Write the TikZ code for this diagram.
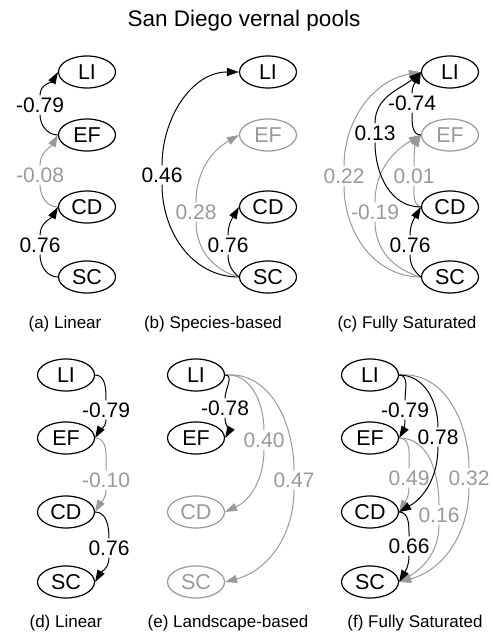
\documentclass[tikz,border=0pt]{standalone}
\usepackage{fontspec}
\setmainfont{Liberation Sans}
\usetikzlibrary{arrows.meta,shapes.geometric}
\definecolor{pathgrey}{gray}{0.6}

\begin{document}
\begin{tikzpicture}[x=1pt, y=1pt]

\useasboundingbox (0,0) rectangle (492,-639);

\node[anchor=base, font=\fontsize{22.5}{26}\selectfont] (title) at (244,-27) {San Diego vernal pools};

\begin{scope}[every node/.style={anchor=base, font=\fontsize{17}{20}\selectfont}]
	\node (capa) at (65,-328) {(a) Linear};
	\node (capb) at (213,-328) {(b) Species-based};
	\node (capc) at (407,-328) {(c) Fully Saturated};
	\node (capd) at (66,-627) {(d) Linear};
	\node (cape) at (228,-627) {(e) Landscape-based};
	\node (capf) at (415,-627) {(f) Fully Saturated};
\end{scope}

\begin{scope}[every node/.style={draw, ellipse, line width=1.2pt, minimum width=57pt, minimum height=32pt, inner sep=0pt, font=\fontsize{21.5}{24}\selectfont},
	greyvar/.style={draw=pathgrey, text=pathgrey}]
	\node (ali) at (87,-72) {LI};
	\node (aef) at (87,-135) {EF};
	\node (acd) at (87,-207) {CD};
	\node (asc) at (87,-277) {SC};
	\node (bli) at (268,-72) {LI};
	\node[greyvar] (bef) at (268,-135) {EF};
	\node (bcd) at (268,-207) {CD};
	\node (bsc) at (268,-277) {SC};
	\node (cli) at (450,-72) {LI};
	\node[greyvar] (cef) at (450,-135) {EF};
	\node (ccd) at (450,-207) {CD};
	\node (csc) at (450,-277) {SC};
	\node (dli) at (66,-375) {LI};
	\node (def) at (66,-438) {EF};
	\node (dcd) at (66,-512) {CD};
	\node (dsc) at (66,-582) {SC};
	\node (eli) at (196,-375) {LI};
	\node (eef) at (196,-438) {EF};
	\node[greyvar] (ecd) at (196,-512) {CD};
	\node[greyvar] (esc) at (196,-582) {SC};
	\node (fli) at (370,-375) {LI};
	\node (fef) at (370,-438) {EF};
	\node (fcd) at (370,-512) {CD};
	\node (fsc) at (370,-582) {SC};
\end{scope}

\begin{scope}[every node/.style={inner sep=2pt, font=\fontsize{21}{23}\selectfont},
	greytext/.style={text=pathgrey}]
	\node (aefli) at (40,-105) {-0.79};
	\node[greytext] (acdef) at (40,-175) {-0.08};
	\node (asccd) at (40,-245) {0.76};
	\node (bscli) at (162,-175) {0.46};
	\node[greytext] (bscef) at (196,-212) {0.28};
	\node (bsccd) at (228,-245) {0.76};
	\node (cefli) at (412,-103) {-0.74};
	\node (ccdli) at (375,-133) {0.13};
	\node[greytext] (cscli) at (344,-176) {0.22};
	\node[greytext] (ccdef) at (414,-176) {0.01};
	\node[greytext] (cscef) at (375,-212) {-0.19};
	\node (csccd) at (410,-245) {0.76};
	\node (dlief) at (106,-410) {-0.79};
	\node[greytext] (defcd) at (106,-480) {-0.10};
	\node (dcdsc) at (109,-548) {0.76};
	\node (elief) at (225,-408) {-0.78};
	\node[greytext] (elicd) at (264,-440) {0.40};
	\node[greytext] (elisc) at (294,-480) {0.47};
	\node (flief) at (405,-410) {-0.79};
	\node (flicd) at (438,-437) {0.78};
	\node[greytext] (flisc) at (469,-478) {0.32};
	\node[greytext] (fefcd) at (409,-478) {0.49};
	\node[greytext] (fefsc) at (439,-515) {0.16};
	\node (fcdsc) at (409,-546) {0.66};
\end{scope}

\begin{scope}[>={Triangle[length=12pt,width=8pt]}, every edge/.style={draw=black, line width=1pt},
	greyedge/.style={draw=pathgrey}]
	\path (aef.west) edge[out=180, in=-90] (aefli.south);
	\path [->] (aefli.north) edge[out=90, in=-120] (ali.west);
	\path (acd.west) edge[greyedge, out=180, in=-90] (acdef.south);
	\path [->] (acdef.north) edge[greyedge, out=90, in=-120] (aef.west);
	\path (asc.west) edge[out=180, in=-90] (asccd.south);
	\path [->] (asccd.north) edge[out=90, in=-120] (acd.west);

	\path (bsc.west) edge[out=180, in=-90] (bscli.south);
	\path [->] (bscli.north) edge[out=90, in=180] (bli.west);
	\path (bsc.west) edge[greyedge, out=165, in=-90] (bscef.south);
	\path [->] (bscef.north) edge[greyedge, out=90, in=-150] (bef.west);
	\path (bsc.west) edge[out=140, in=-90] (bsccd.south);
	\path [->] (bsccd.north) edge[out=90, in=-120] (bcd.west);

	\path (csc.west) edge[greyedge, out=180, in=-90] (cscli.south);
	\path [->] (cscli.north) edge[greyedge, out=90, in=-170] (cli.west);
	\path (csc.west) edge[greyedge, out=165, in=-90] (cscef.south);
	\path [->] (cscef.north) edge[greyedge, out=90, in=-150] (cef.west);
	\path (ccd.west) edge[greyedge, out=160, in=-90] (ccdef.south);
	\path [->] (ccdef.north) edge[greyedge, out=90, in=-120] (cef.west);
	\path (ccd.west) edge[out=180, in=-90] (ccdli.south);
	\path [->] (ccdli.north) edge[out=90, in=-140] (cli.west);
	\path (cef.west) edge[out=180, in=-90] (cefli.south);
	\path [->] (cefli.north) edge[out=90, in=-115] (cli.west);
	\path (csc.west) edge[out=140, in=-90] (csccd.south);
	\path [->] (csccd.north) edge[out=90, in=-120] (ccd.west);

	\path (dli.east) edge[out=0, in=90] (dlief.north);
	\path [->] (dlief.south) edge[out=-90, in=60] (def.east);
	\path (def.east) edge[greyedge, out=0, in=90] (defcd.north);
	\path [->] (defcd.south) edge[greyedge, out=-90, in=60] (dcd.east);
	\path (dcd.east) edge[out=0, in=90] (dcdsc.north);
	\path [->] (dcdsc.south) edge[out=-90, in=60] (dsc.east);

	\path (eli.east) edge[greyedge, out=5, in=90] (elisc.north);
	\path [->] (elisc.south) edge[greyedge, out=-90, in=15] (esc.east);
	\path (eli.east) edge[greyedge, out=5, in=90] (elicd.north);
	\path [->] (elicd.south) edge[greyedge, out=-90, in=25] (ecd.east);
	\path (eli.east) edge[out=0, in=90] (elief.north);
	\path [->] (elief.south) edge[out=-90, in=60] (eef.east);

	\path (fli.east) edge[greyedge, out=5, in=90] (flisc.north);
	\path [->] (flisc.south) edge[greyedge, out=-90, in=15] (fsc.east);
	\path (fef.east) edge[greyedge, out=0, in=90] (fefsc.north);
	\path [->] (fefsc.south) edge[greyedge, out=-90, in=30] (fsc.east);
	\path (fef.east) edge[greyedge, out=0, in=90] (fefcd.north);
	\path [->] (fefcd.south) edge[greyedge, out=-90, in=60] (fcd.east);
	\path (fli.east) edge[out=0, in=90] (flicd.north);
	\path [->] (flicd.south) edge[out=-90, in=30] (fcd.east);
	\path (fli.east) edge[out=0, in=90] (flief.north);
	\path [->] (flief.south) edge[out=-90, in=60] (fef.east);
	\path (fcd.east) edge[out=0, in=90] (fcdsc.north);
	\path [->] (fcdsc.south) edge[out=-90, in=60] (fsc.east);
\end{scope}

\end{tikzpicture}
\end{document}
